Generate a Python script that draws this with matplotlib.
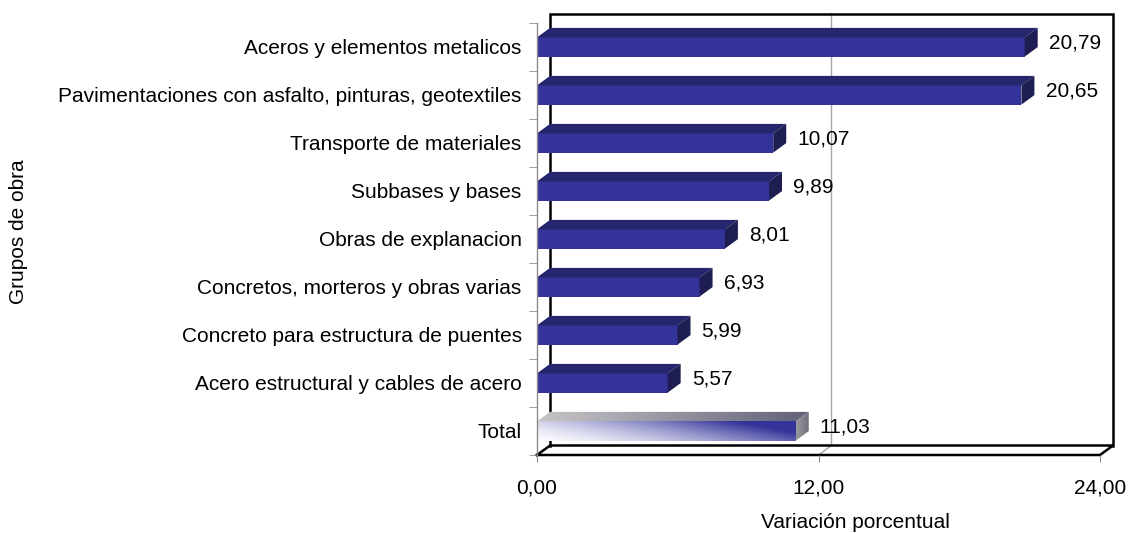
import numpy as np
import matplotlib.pyplot as plt
from matplotlib.patches import Polygon, Rectangle

# datos (de abajo hacia arriba)
categories = ['Total',
              'Acero estructural y cables de acero',
              'Concreto para estructura de puentes',
              'Concretos, morteros y obras varias',
              'Obras de explanacion',
              'Subbases y bases',
              'Transporte de materiales',
              'Pavimentaciones con asfalto, pinturas, geotextiles',
              'Aceros y elementos metalicos']
values = [11.03, 5.57, 5.99, 6.93, 8.01, 9.89, 10.07, 20.65, 20.79]
value_labels = ['11,03', '5,57', '5,99', '6,93', '8,01', '9,89', '10,07', '20,65', '20,79']
x_ticks = [0, 12, 24]
x_tick_labels = ['0,00', '12,00', '24,00']

plt.rcParams['font.family'] = ['Liberation Sans', 'DejaVu Sans']
fs = 15

W, H = 1130, 533
fig = plt.figure(figsize=(W / 100, H / 100), dpi=100)
ax = fig.add_axes([537 / W, 78 / H, 563 / W, 432 / H])

# profundidad 3D en unidades de datos
dx = 13 / (563 / 24)
dy = 9.5 / 48
h = 0.2

front_c = '#333399'
top_c = '#26266e'
side_c = '#1e1e52'

# pared del fondo y piso
ax.plot([dx, dx, 24 + dx, 24 + dx], [dy, 9 + dy, 9 + dy, dy], color='black', lw=1.8,
        clip_on=False, zorder=1, solid_joinstyle='miter')
ax.plot([0, 24, 24 + dx, dx, 0], [0, 0, dy, dy, 0], color='black', lw=1.8,
        clip_on=False, zorder=1, solid_joinstyle='miter')
ax.plot([12, 12 + dx, 12 + dx], [0, dy, 9 + dy], color='#a6a6a6', lw=1, clip_on=False, zorder=0.5)

for i, (v, lab) in enumerate(zip(values, value_labels)):
    c = i + 0.5
    front = Rectangle((0, c - h), v, 2 * h)
    top = Polygon([(0, c + h), (v, c + h), (v + dx, c + h + dy), (dx, c + h + dy)], closed=True)
    side = Polygon([(v, c - h), (v + dx, c - h + dy), (v + dx, c + h + dy), (v, c + h)], closed=True)
    if i == 0:
        # barra del total con degradado
        nx, ny = 200, 40
        xn = np.linspace(0, 1, nx)[None, :]
        yn = np.linspace(0, 1, ny)[:, None]
        t = np.clip(0.0 + 0.85 * xn + 0.35 * yn, 0, 1) ** 1.5
        light = np.array([0.98, 0.98, 1.0])
        dark = np.array([0.2, 0.2, 0.6])
        img = light[None, None, :] * (1 - t[..., None]) + dark[None, None, :] * t[..., None]
        for patch in (front, top, side):
            patch.set_facecolor('none')
            patch.set_edgecolor('none')
            ax.add_patch(patch)
        im = ax.imshow(img, extent=[0, v, c - h, c + h], origin='lower', aspect='auto',
                       zorder=2, interpolation='bilinear')
        im.set_clip_path(front)
        t2 = np.clip(0.05 + 0.9 * xn, 0, 1) * np.ones((ny, 1))
        g_light = np.array([0.80, 0.80, 0.80])
        g_dark = np.array([0.36, 0.36, 0.46])
        img2 = g_light[None, None, :] * (1 - t2[..., None]) + g_dark[None, None, :] * t2[..., None]
        im2 = ax.imshow(img2, extent=[0, v + dx, c + h, c + h + dy], origin='lower',
                        aspect='auto', zorder=2, interpolation='bilinear')
        im2.set_clip_path(top)
        t3 = np.ones((ny, 1)) * np.linspace(0, 1, nx)[None, :]
        s_light = np.array([0.60, 0.60, 0.62])
        s_dark = np.array([0.44, 0.44, 0.48])
        img3 = s_light[None, None, :] * (1 - t3[..., None]) + s_dark[None, None, :] * t3[..., None]
        im3 = ax.imshow(img3, extent=[v, v + dx, c - h, c + h + dy], origin='lower',
                        aspect='auto', zorder=2, interpolation='bilinear')
        im3.set_clip_path(side)
    else:
        front.set_facecolor(front_c)
        top.set_facecolor(top_c)
        side.set_facecolor(side_c)
        for patch in (front, top, side):
            patch.set_edgecolor('none')
            patch.set_zorder(2)
            patch.set_clip_on(False)
            ax.add_patch(patch)
    ax.annotate(lab, (v + dx, c + 0.08), xytext=(8, 0), textcoords='offset points',
                ha='left', va='center', fontsize=fs, annotation_clip=False)

ax.set_xlim(0, 24)
ax.set_ylim(0, 9)

for s in ('top', 'right', 'bottom'):
    ax.spines[s].set_visible(False)
ax.spines['left'].set_color('#8c8c8c')
ax.spines['left'].set_linewidth(1)

ax.set_yticks([i + 0.5 for i in range(len(categories))])
ax.set_yticklabels(categories, fontsize=fs)
ax.set_yticks(range(10), minor=True)
ax.tick_params(axis='y', which='major', length=0, pad=11)
ax.tick_params(axis='y', which='minor', length=6, color='#8c8c8c', direction='out')

ax.set_xticks(x_ticks)
ax.set_xticklabels(x_tick_labels, fontsize=fs)
ax.tick_params(axis='x', length=5, color='#8c8c8c', direction='out', pad=12)

ax.set_xlabel('Variación porcentual', fontsize=fs)
ax.xaxis.set_label_coords((855 - 537) / 563, (455 - 522) / 432)
ax.xaxis.label.set_va('center')
ax.set_ylabel('Grupos de obra', fontsize=fs)
ax.yaxis.set_label_coords((19 - 537) / 563, (455 - 232) / 432)
ax.yaxis.label.set_va('center')

ax.patch.set_visible(False)

plt.savefig('out.png', dpi=100)
